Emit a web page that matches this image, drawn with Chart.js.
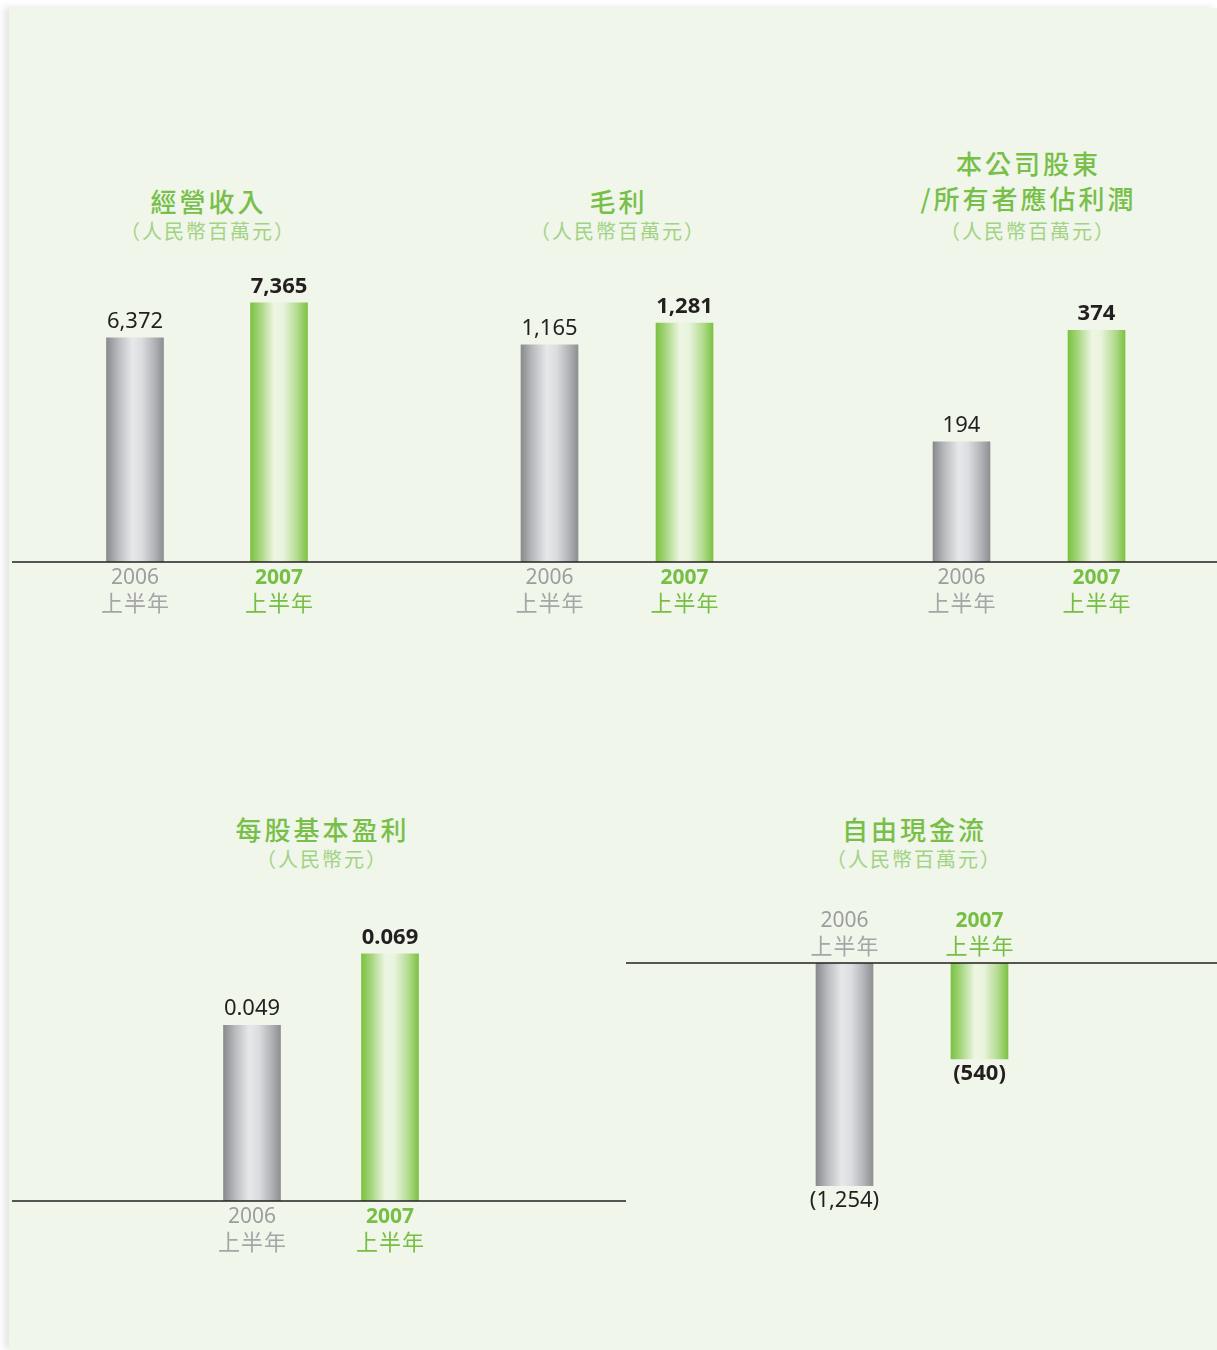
<!DOCTYPE html>
<html>
<head>
<meta charset="utf-8">
<script src="https://cdn.jsdelivr.net/npm/chart.js@4.4.1/dist/chart.umd.min.js"></script>
<style>
html,body{margin:0;padding:0;width:1217px;height:1350px;overflow:hidden;background:#ffffff;}
#page{position:absolute;left:9px;top:8px;width:1208px;height:1342px;background:#f0f6e9;box-shadow:-5px -1px 7px rgba(0,0,0,0.10);}
.t{position:absolute;transform:translateX(-50%);white-space:nowrap;text-align:center;font-family:'Noto Sans CJK TC','Noto Sans',sans-serif;}
.title{color:#78bf4a;font-size:26px;line-height:30px;letter-spacing:3px;text-indent:3px;font-weight:500;}
.unit{color:#a2d385;font-size:20px;line-height:26px;letter-spacing:2px;text-indent:2px;}
canvas{position:absolute;}
</style>
</head>
<body>
<div id="page"></div>
<script>
// ---- data ----
const categories = ['2006', '2007'];
const periodLabel = '上半年';
const revenue = [6372, 7365];
const grossProfit = [1165, 1281];
const netProfit = [194, 374];
const basicEps = [0.049, 0.069];
const freeCashFlow = [-1254, -540];

const titles = [
  ['經營收入'],
  ['毛利'],
  ['本公司股東', '/所有者應佔利潤'],
  ['每股基本盈利'],
  ['自由現金流']
];
const units = ['（人民幣百萬元）', '（人民幣百萬元）', '（人民幣百萬元）', '（人民幣元）', '（人民幣百萬元）'];
const seriesList = [revenue, grossProfit, netProfit, basicEps, freeCashFlow];
const decimals = [0, 0, 0, 3, 0];

// ---- layout (positions / sizes) ----
const panels = [
  {left: 12,  top: 240, width: 408, height: 382, pad: {left: 51,  right: 69,  top: 0,  bottom: 60}, yMin: 0, yMax: 9150, titleX: 207, titleY: [201], unitY: 231},
  {left: 420, top: 240, width: 410, height: 382, pad: {left: 62,  right: 78,  top: 0,  bottom: 60}, yMin: 0, yMax: 1727, titleX: 617, titleY: [201], unitY: 231},
  {left: 830, top: 240, width: 387, height: 382, pad: {left: 64,  right: 53,  top: 0,  bottom: 60}, yMin: 0, yMax: 520,  titleX: 1027, titleY: [163, 198], unitY: 231},
  {left: 12,  top: 900, width: 614, height: 361, pad: {left: 171, right: 167, top: 0,  bottom: 60}, yMin: 0, yMax: 0.0840, titleX: 321, titleY: [829], unitY: 859},
  {left: 626, top: 903, width: 591, height: 400, pad: {left: 151, right: 170, top: 60, bottom: 40}, yMin: -1690, yMax: 0, titleX: 913, titleY: [829], unitY: 859}
];

const FONT_NUM = "'Noto Sans','Noto Sans CJK TC',sans-serif";
const FONT_CJK = "'Noto Sans CJK TC','Noto Sans',sans-serif";
const BAR_W = 57;

function fmt(v, d) {
  const a = Math.abs(v);
  const s = d > 0 ? a.toFixed(d) : a.toLocaleString('en-US');
  return v < 0 ? '(' + s + ')' : s;
}

function barFill(ctx) {
  const chart = ctx.chart;
  const i = ctx.dataIndex;
  const gray = i === 0;
  if (!chart.chartArea || !chart.scales.x) return gray ? '#c0c1c4' : '#a9d67f';
  const x = chart.scales.x.getPixelForValue(i);
  const g = chart.ctx.createLinearGradient(x - BAR_W / 2, 0, x + BAR_W / 2, 0);
  if (gray) {
    g.addColorStop(0, '#898a8e');
    g.addColorStop(0.2, '#b9babd');
    g.addColorStop(0.45, '#e7e8ea');
    g.addColorStop(0.62, '#dcdde0');
    g.addColorStop(0.85, '#b0b1b4');
    g.addColorStop(1, '#8e8f93');
  } else {
    g.addColorStop(0, '#7bc241');
    g.addColorStop(0.18, '#a8d681');
    g.addColorStop(0.42, '#eef6e3');
    g.addColorStop(0.58, '#e8f3dc');
    g.addColorStop(0.82, '#b3dc90');
    g.addColorStop(1, '#7cc243');
  }
  return g;
}

const labelPlugin = {
  id: 'panelLabels',
  afterDatasetsDraw(chart, args, opts) {
    const c = chart.ctx;
    const xs = chart.scales.x, ys = chart.scales.y;
    const base = ys.getPixelForValue(0);
    const neg = opts.negative;
    c.save();
    // baseline across the whole panel
    c.strokeStyle = '#231f20';
    c.lineWidth = 1.5;
    c.beginPath();
    c.moveTo(0, base);
    c.lineTo(chart.width, base);
    c.stroke();
    // value labels
    const meta = chart.getDatasetMeta(0);
    const data = chart.data.datasets[0].data;
    c.textAlign = 'center';
    meta.data.forEach((el, i) => {
      c.fillStyle = '#231f20';
      c.font = (i === 1 ? 'bold ' : '') + '22px ' + FONT_NUM;
      const v = data[i];
      if (v >= 0) {
        c.textBaseline = 'alphabetic';
        c.fillText(fmt(v, opts.decimals), el.x, el.y - 10);
      } else {
        c.textBaseline = 'top';
        c.fillText(fmt(v, opts.decimals), el.x, el.y + 4);
      }
    });
    // category labels
    chart.data.labels.forEach((lab, i) => {
      const x = xs.getPixelForValue(i);
      const y1 = neg ? base - 42 : base + 16;
      const y2 = neg ? base - 17 : base + 41;
      c.textBaseline = 'middle';
      c.fillStyle = i === 0 ? '#9b9d9f' : '#77bf44';
      c.font = (i === 1 ? 'bold ' : '') + '21px ' + FONT_NUM;
      c.fillText(lab, x, y1);
      c.font = '22px ' + FONT_CJK;
      c.fillStyle = i === 0 ? '#a4a6a8' : '#77bf44';
      if ('letterSpacing' in c) c.letterSpacing = '1px';
      c.fillText(periodLabel, x + 0.5, y2);
      if ('letterSpacing' in c) c.letterSpacing = '0px';
    });
    c.restore();
  }
};

panels.forEach((p, k) => {
  // titles as text
  titles[k].forEach((line, j) => {
    const d = document.createElement('div');
    d.className = 't title';
    d.textContent = line;
    d.style.left = p.titleX + 'px';
    d.style.top = (p.titleY[j] - 15) + 'px';
    document.body.appendChild(d);
  });
  const u = document.createElement('div');
  u.className = 't unit';
  u.textContent = units[k];
  u.style.left = p.titleX + 'px';
  u.style.top = (p.unitY - 13) + 'px';
  document.body.appendChild(u);

  const cv = document.createElement('canvas');
  cv.width = p.width; cv.height = p.height;
  cv.style.left = p.left + 'px'; cv.style.top = p.top + 'px';
  cv.style.width = p.width + 'px'; cv.style.height = p.height + 'px';
  document.body.appendChild(cv);

  new Chart(cv, {
    type: 'bar',
    data: {
      labels: categories,
      datasets: [{
        data: seriesList[k],
        backgroundColor: barFill,
        borderWidth: 0,
        barThickness: BAR_W
      }]
    },
    options: {
      responsive: false,
      animation: false,
      layout: {padding: p.pad},
      scales: {
        x: {display: false, offset: true},
        y: {display: false, min: p.yMin, max: p.yMax}
      },
      plugins: {
        legend: {display: false},
        tooltip: {enabled: false},
        panelLabels: {negative: p.yMax <= 0, decimals: decimals[k]}
      }
    },
    plugins: [labelPlugin]
  });
});
</script>
</body>
</html>
